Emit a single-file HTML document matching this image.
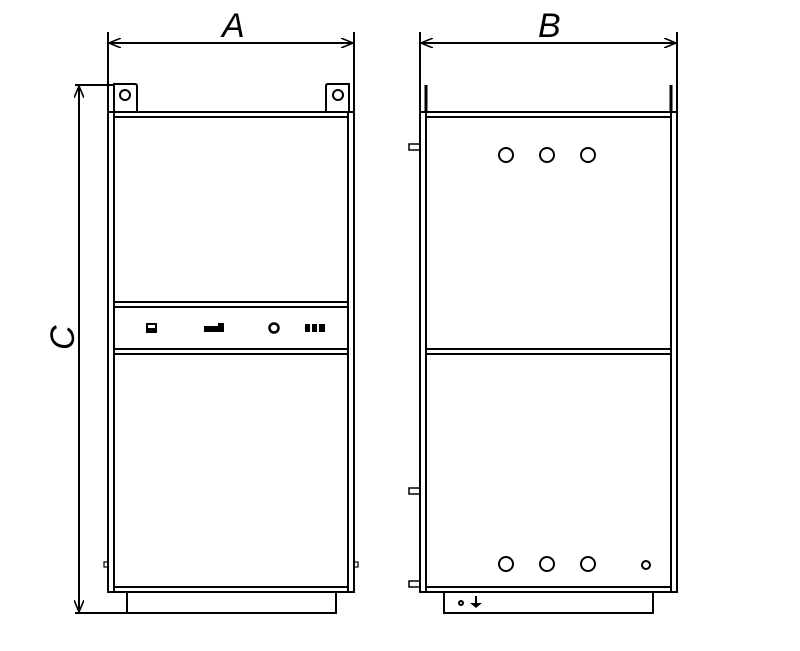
<!DOCTYPE html>
<html><head><style>body{margin:0;background:#fff}svg{display:block}</style></head><body>
<svg width="800" height="651" viewBox="0 0 800 651" xmlns="http://www.w3.org/2000/svg">
<defs>
<marker id="ar" viewBox="0 0 12 10" refX="12" refY="5" markerWidth="12" markerHeight="10" markerUnits="userSpaceOnUse" orient="auto-start-reverse">
<path d="M0,0 L12,5 L0,10" fill="none" stroke="#000" stroke-width="1.6"/></marker>
</defs>
<g stroke="#000" fill="none" stroke-width="2">
<!-- A dimension -->
<line x1="108" y1="32" x2="108" y2="112"/><line x1="354" y1="32" x2="354" y2="112"/>
<line x1="109" y1="43" x2="353" y2="43" marker-start="url(#ar)" marker-end="url(#ar)"/>
<!-- C dimension -->
<line x1="75" y1="85" x2="114" y2="85"/><line x1="75" y1="613" x2="127" y2="613"/>
<line x1="79" y1="86" x2="79" y2="612" marker-start="url(#ar)" marker-end="url(#ar)"/>
<!-- left cabinet -->
<rect x="108" y="112" width="246" height="480"/>
<line x1="114" y1="112" x2="114" y2="592"/><line x1="348" y1="112" x2="348" y2="592"/>
<line x1="114" y1="117" x2="348" y2="117"/>
<line x1="114" y1="302" x2="348" y2="302"/><line x1="114" y1="307" x2="348" y2="307"/>
<line x1="114" y1="349" x2="348" y2="349"/><line x1="114" y1="354" x2="348" y2="354"/>
<line x1="114" y1="587" x2="348" y2="587"/>
<path d="M114,112 V84 H135 Q137,84 137,86 V112"/>
<path d="M326,112 V86 Q326,84 328,84 H349 V112"/>
<circle cx="125" cy="95" r="5"/><circle cx="338" cy="95" r="5"/>
<path d="M127,592 V613 H336 V592"/>
<rect x="104" y="562" width="4" height="5" stroke-width="1.2"/><rect x="354" y="562" width="4" height="5" stroke-width="1.2"/>
<circle cx="274" cy="328" r="4.5" stroke-width="2.5"/>
<!-- B dimension -->
<line x1="420" y1="32" x2="420" y2="112"/><line x1="677" y1="32" x2="677" y2="112"/>
<line x1="421" y1="43" x2="676" y2="43" marker-start="url(#ar)" marker-end="url(#ar)"/>
<!-- right cabinet -->
<rect x="420" y="112" width="257" height="480"/>
<line x1="426" y1="112" x2="426" y2="592"/><line x1="671" y1="112" x2="671" y2="592"/>
<line x1="426" y1="117" x2="671" y2="117"/>
<line x1="426" y1="349" x2="671" y2="349"/><line x1="426" y1="354" x2="671" y2="354"/>
<line x1="426" y1="587" x2="671" y2="587"/>
<line x1="426" y1="85" x2="426" y2="112" stroke-width="3"/><line x1="671" y1="85" x2="671" y2="112" stroke-width="3"/>
<rect x="409" y="144" width="11" height="6" stroke-width="1.5"/>
<rect x="409" y="488" width="11" height="6" stroke-width="1.5"/>
<rect x="409" y="581" width="11" height="6" stroke-width="1.5"/>
<circle cx="506" cy="155" r="7"/><circle cx="547" cy="155" r="7"/><circle cx="588" cy="155" r="7"/>
<circle cx="506" cy="564" r="7"/><circle cx="547" cy="564" r="7"/><circle cx="588" cy="564" r="7"/><circle cx="646" cy="565" r="4"/>
<path d="M444,592 V613 H653 V592"/>
<circle cx="461" cy="603" r="2"/>
<line x1="476" y1="596" x2="476" y2="605"/>
</g>
<g fill="#000">
<rect x="146" y="323" width="11" height="10"/><rect x="148" y="325" width="7" height="3" fill="#fff"/>
<rect x="204" y="326" width="20" height="6"/><rect x="218" y="323" width="6" height="4"/>
<rect x="305" y="324" width="5" height="8"/><rect x="312" y="324" width="5" height="8"/><rect x="319" y="324" width="6" height="8"/>
<path d="M470,603 H482 L476,608 Z"/>
</g>
<g font-family="Liberation Sans, sans-serif" font-size="34" font-style="italic" fill="#000">
<text x="222" y="37">A</text>
<text x="538" y="37">B</text>
<text transform="translate(74,350) rotate(-90)">C</text>
</g>
</svg>
</body></html>
